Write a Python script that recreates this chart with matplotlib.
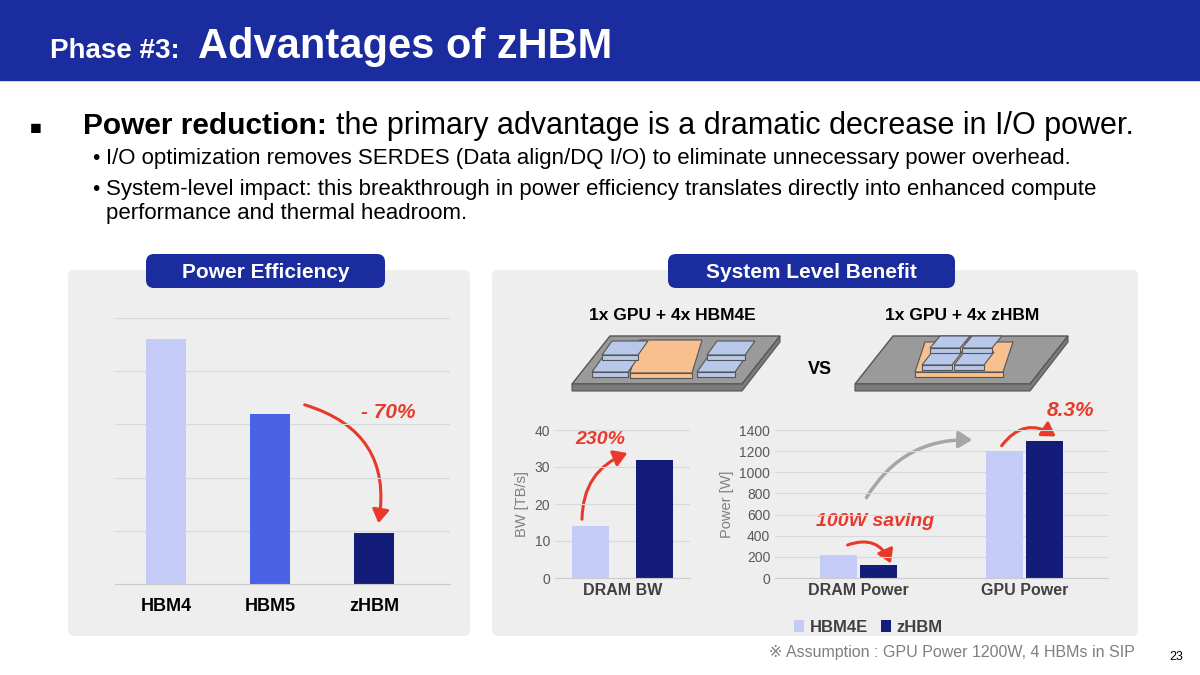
import matplotlib.pyplot as plt
from matplotlib.patches import FancyBboxPatch, Polygon, FancyArrowPatch, Rectangle

# data
eff_labels = ['HBM4', 'HBM5', 'zHBM']
eff_values = [4.6, 3.2, 0.96]
bw_values = [14, 32]          # HBM4E, zHBM  [TB/s]
power_groups = ['DRAM Power', 'GPU Power']
power_hbm4e = [220, 1200]
power_zhbm = [120, 1300]

LIGHT = '#c3cbf6'
MID = '#4a62e6'
DARK = '#131c78'
RED = '#e8392b'
BLUE = '#1a2c9e'
plt.rcParams['font.family'] = ['Liberation Sans', 'DejaVu Sans']

fig = plt.figure(figsize=(12, 6.75), dpi=100)
bg = fig.add_axes([0, 0, 1, 1])
bg.set_xlim(0, 1200)
bg.set_ylim(675, 0)
bg.axis('off')

def px_axes(x0, y0, x1, y1):
    return fig.add_axes([x0 / 1200, 1 - y1 / 675, (x1 - x0) / 1200, (y1 - y0) / 675])

# header
bg.add_patch(Rectangle((0, 0), 1200, 80, color=BLUE))
bg.text(50, 58, 'Phase #3:', color='white', fontsize=20, fontweight='bold', va='baseline')
bg.text(198, 58, 'Advantages of zHBM', color='white', fontsize=30, fontweight='bold', va='baseline')

# bullets
bg.text(30, 134, '■', fontsize=14, va='baseline')
bg.text(83, 134, 'Power reduction:', fontsize=21.5, fontweight='bold', va='baseline')
bg.text(336, 134, 'the primary advantage is a dramatic decrease in I/O power.', fontsize=22, va='baseline')
bg.text(92, 164, '•', fontsize=15, va='baseline')
bg.text(106, 164, 'I/O optimization removes SERDES (Data align/DQ I/O) to eliminate unnecessary power overhead.',
        fontsize=16, va='baseline')
bg.text(92, 195, '•', fontsize=15, va='baseline')
bg.text(106, 195, 'System-level impact: this breakthrough in power efficiency translates directly into enhanced compute',
        fontsize=16, va='baseline')
bg.text(106, 219, 'performance and thermal headroom.', fontsize=16, va='baseline')

# gray panels
for x0, x1 in [(68, 470), (492, 1138)]:
    bg.add_patch(FancyBboxPatch((x0, 270), x1 - x0, 366, boxstyle='round,pad=0,rounding_size=6',
                                fc='#eeeeee', ec='none'))
for x0, x1, t in [(146, 385, 'Power Efficiency'), (668, 955, 'System Level Benefit')]:
    bg.add_patch(FancyBboxPatch((x0, 254), x1 - x0, 34, boxstyle='round,pad=0,rounding_size=8',
                                fc=BLUE, ec='none'))
    bg.text((x0 + x1) / 2, 272, t, color='white', fontsize=15, fontweight='bold', ha='center', va='center')

# chip diagrams (decoration)
def block(x, y, w, h, c):
    bg.add_patch(Polygon([(x, y + h), (x + 10, y), (x + w + 10, y), (x + w, y + h)],
                         fc=c, ec='#555555', lw=0.8))
    bg.add_patch(Rectangle((x, y + h), w, 5, fc=c, ec='#555555', lw=0.8))

def substrate(xl, xr):
    bg.add_patch(Polygon([(xl, 384), (xl + 38, 336), (xr + 38, 336), (xr, 384)],
                         fc='#9a9a9a', ec='#555555', lw=1))
    bg.add_patch(Polygon([(xl, 384), (xr, 384), (xr + 38, 336), (xr + 38, 342), (xr, 391), (xl, 391)],
                         fc='#7a7a7a', ec='#555555', lw=0.8))

substrate(572, 742)
block(630, 340, 62, 33, '#f7c08e')
block(592, 358, 36, 14, '#b8c8ea')
block(602, 341, 36, 14, '#b8c8ea')
block(697, 358, 38, 14, '#b8c8ea')
block(707, 341, 38, 14, '#b8c8ea')
bg.text(672, 316, '1x GPU + 4x HBM4E', fontsize=12.5, fontweight='bold', ha='center', va='center')

substrate(855, 1030)
block(915, 342, 88, 30, '#f7c08e')
block(922, 352, 30, 13, '#b8c8ea')
block(954, 352, 30, 13, '#b8c8ea')
block(930, 336, 30, 12, '#b8c8ea')
block(962, 336, 30, 12, '#b8c8ea')
bg.text(962, 316, '1x GPU + 4x zHBM', fontsize=12.5, fontweight='bold', ha='center', va='center')
bg.text(820, 370, 'VS', fontsize=13, fontweight='bold', ha='center', va='center')

def style(ax, ylim, yticks, ylabel=None):
    ax.set_facecolor('none')
    ax.set_ylim(*ylim)
    for s in ['top', 'right', 'left']:
        ax.spines[s].set_visible(False)
    ax.spines['bottom'].set_color('#cccccc')
    ax.grid(axis='y', color='#d9d9d9', lw=0.8)
    ax.set_axisbelow(True)
    ax.tick_params(length=0, labelsize=10, colors='#595959')
    ax.set_yticks(yticks)
    if ylabel:
        ax.set_ylabel(ylabel, fontsize=10.5, color='#7f7f7f')

# left chart
ax1 = px_axes(115, 318, 450, 584)
ax1.bar(range(3), eff_values, width=0.385, color=[LIGHT, MID, DARK])
style(ax1, (0, 5), [0, 1, 2, 3, 4, 5])
ax1.set_xlim(-0.49, 2.73)
ax1.set_xticks(range(3))
ax1.set_xticklabels(eff_labels)
ax1.set_yticklabels([])
ax1.tick_params(axis='x', labelsize=13, colors='black', pad=10)
for t in ax1.get_xticklabels():
    t.set_fontweight('bold')
bg.add_patch(FancyArrowPatch((302, 404), (378, 526), connectionstyle='arc3,rad=-0.45',
                             arrowstyle='-|>,head_length=8,head_width=5', color=RED, lw=2.2))
bg.text(388, 412, '- 70%', color=RED, fontsize=15, fontweight='bold', fontstyle='italic', ha='center', va='center')

# middle chart
ax2 = px_axes(555, 430, 690, 578)
ax2.bar([0, 1], bw_values, width=0.58, color=[LIGHT, DARK])
style(ax2, (0, 40), [0, 10, 20, 30, 40], 'BW [TB/s]')
ax2.set_xlim(-0.55, 1.55)
ax2.set_xticks([0.5])
ax2.set_xticklabels(['DRAM BW'], fontsize=11.5, fontweight='bold', color='#404040')
bg.add_patch(FancyArrowPatch((582, 522), (630, 452), connectionstyle='arc3,rad=-0.35',
                             arrowstyle='-|>,head_length=8,head_width=5', color=RED, lw=2.2))
bg.text(600, 440, '230%', color=RED, fontsize=14, fontweight='bold', fontstyle='italic', ha='center', va='center')

# right chart
ax3 = px_axes(775, 430, 1108, 578)
x = [0, 1]
w = 0.22
ax3.bar([i - w / 2 - 0.01 for i in x], power_hbm4e, width=w, color=LIGHT, label='HBM4E')
ax3.bar([i + w / 2 + 0.01 for i in x], power_zhbm, width=w, color=DARK, label='zHBM')
style(ax3, (0, 1400), range(0, 1401, 200), 'Power [W]')
ax3.set_xlim(-0.5, 1.5)
ax3.set_xticks(x)
ax3.set_xticklabels(power_groups, fontsize=11.5, fontweight='bold', color='#404040')
ax3.legend(loc='upper center', bbox_to_anchor=(0.28, -0.18), ncol=2, frameon=False,
           handlelength=0.6, handletextpad=0.3, columnspacing=0.8, prop={'weight': 'bold', 'size': 12})
for t in ax3.get_legend().get_texts():
    t.set_color('#404040')
bg.add_patch(FancyArrowPatch((845, 546), (892, 566), connectionstyle='arc3,rad=-0.5',
                             arrowstyle='-|>,head_length=8,head_width=5', color=RED, lw=2.2))
bg.text(875, 521, '100W saving', color=RED, fontsize=14, fontweight='bold', fontstyle='italic', ha='center', va='center')
bg.add_patch(FancyArrowPatch((865, 500), (975, 440), connectionstyle='arc3,rad=-0.3',
                             arrowstyle='-|>,head_length=8,head_width=5', color='#a6a6a6', lw=2.5))
bg.add_patch(FancyArrowPatch((1000, 448), (1058, 438), connectionstyle='arc3,rad=-0.5',
                             arrowstyle='-|>,head_length=8,head_width=5', color=RED, lw=2.2))
bg.text(1070, 410, '8.3%', color=RED, fontsize=15, fontweight='bold', fontstyle='italic', ha='center', va='center')

bg.text(1135, 652, '※ Assumption : GPU Power 1200W, 4 HBMs in SIP', fontsize=11.5, color='#7f7f7f',
        ha='right', va='center')
bg.text(1183, 657, '23', fontsize=9, ha='right', va='center')

fig.savefig('out.png', dpi=100)
